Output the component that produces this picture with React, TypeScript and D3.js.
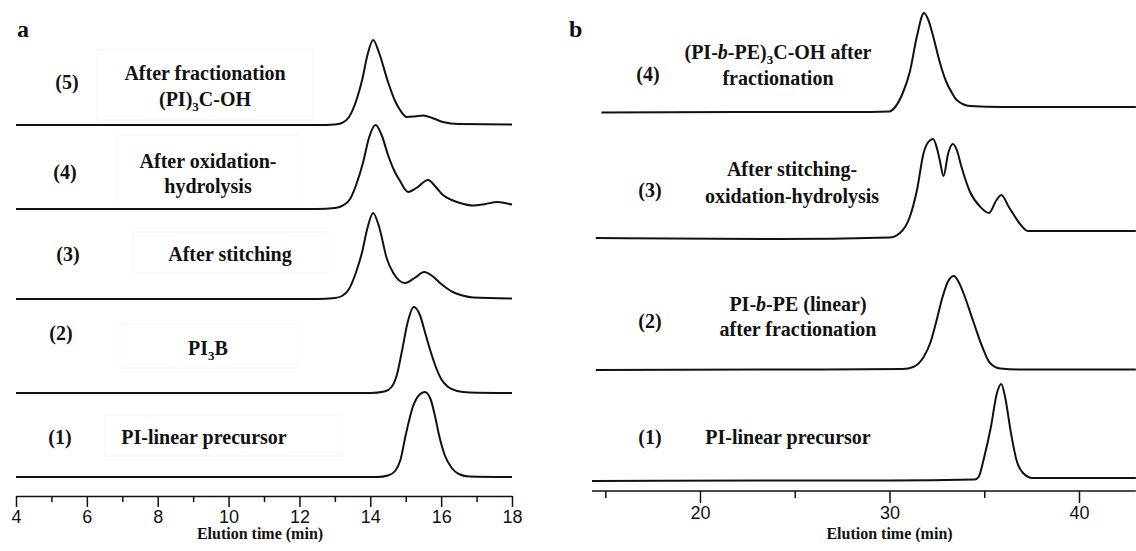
import * as d3 from 'd3';
import React, { useEffect, useRef } from 'react';

// ---- panel a : elution time (min), response (arbitrary units) ----
const traceA1 = [[4,0],[14.2,0],[14.5,1.5],[14.7,6],[14.85,17],[15.0,42],[15.2,70],[15.38,82],[15.54,85],[15.7,78],[15.82,62],[15.94,42],[16.1,22],[16.3,9],[16.5,3],[16.8,0.5],[18,0]];
const traceA2 = [[4,0],[14.0,0],[14.4,1.5],[14.6,6],[14.75,18],[14.9,43],[15.05,70],[15.23,86],[15.4,78],[15.55,60],[15.69,43],[15.85,26],[16.0,14],[16.2,6],[16.45,2],[16.8,0.5],[18,0]];
const traceA3 = [[4,0],[12.5,0],[13.0,1],[13.2,3],[13.4,10],[13.6,27],[13.77,47],[13.92,71],[14.08,86],[14.25,72],[14.47,40],[14.65,26],[14.98,16],[15.25,21],[15.52,27],[15.75,23],[15.97,16],[16.15,11],[16.33,7],[16.6,3.5],[16.9,1.5],[18,0.5]];
const traceA4 = [[4,0],[12.5,0],[13.0,1],[13.2,3],[13.43,10],[13.6,24],[13.8,47],[13.97,72],[14.15,84],[14.32,74],[14.5,54],[14.68,38],[14.84,28],[15.07,17],[15.3,21],[15.63,29],[15.85,22],[16.05,14],[16.3,9],[16.53,6],[16.9,3.5],[17.25,5],[17.58,7],[17.8,6],[18,4.5]];
const traceA5 = [[4,0],[12.5,0],[13.0,0.5],[13.2,2],[13.4,8],[13.6,24],[13.77,45],[13.92,70],[14.08,85],[14.25,72],[14.5,43],[14.7,24],[14.84,15],[15.03,8],[15.25,8.5],[15.5,9.5],[15.75,7],[16.05,3],[16.5,1],[18,0.5]];
const tracesA = [traceA1, traceA2, traceA3, traceA4, traceA5];
const offsetsA = [0, 84, 178, 268, 352];
const majorTicksA = [4, 6, 8, 10, 12, 14, 16, 18];
const minorTicksA = [5, 7, 9, 11, 13, 15, 17];

// ---- panel b ----
const traceB1 = [[14.3,0],[25,0.5],[30,0.5],[34.5,1.5],[34.7,4],[35.0,24],[35.35,54],[35.67,88],[35.9,97],[36.1,84],[36.4,49],[36.7,21],[37.05,8],[37.55,3],[40,3],[43,3]];
const traceB2 = [[14.5,0],[25,0.5],[30.7,1],[31.25,3],[31.8,13],[32.15,27],[32.45,47],[32.8,73],[33.1,89],[33.4,94],[33.65,88],[33.9,77],[34.45,47],[34.9,23],[35.3,7],[35.85,1.5],[37,0.5],[43,0.5]];
const traceB3 = [[14.5,0],[24,-1],[30.0,0.5],[30.55,5],[31.07,21],[31.45,48],[31.8,85],[32.05,96],[32.3,99],[32.5,90],[32.65,78],[32.85,62],[33.1,85],[33.35,94],[33.55,88],[33.8,71],[34.25,46],[34.8,31],[35.25,25],[35.65,38],[35.9,43],[36.3,31],[36.85,15],[37.3,7],[38,7],[43,7]];
const traceB4 = [[14.8,-0.5],[22,0],[28,0],[30.0,0.5],[30.3,5],[30.7,19],[31.07,40],[31.45,76],[31.82,99],[32.05,92],[32.3,76],[32.65,50],[33.0,30],[33.3,19],[33.55,12],[34.25,6],[36,5],[40,5],[43,5]];
const tracesB = [traceB1, traceB2, traceB3, traceB4];
const offsetsB = [0, 111, 243, 369];
const majorTicksB = [20, 30, 40];
const minorTicksB = [15, 25, 35];

// label lines: [text, kind] segments ('' normal, 'sub', 'i' italic)
const labelsA = [
  { num: '(1)', lines: [[['PI-linear precursor', '']]] },
  { num: '(2)', lines: [[['PI', ''], ['3', 'sub'], ['B', '']]] },
  { num: '(3)', lines: [[['After stitching', '']]] },
  { num: '(4)', lines: [[['After oxidation-', '']], [['hydrolysis', '']]] },
  { num: '(5)', lines: [[['After fractionation', '']], [['(PI)', ''], ['3', 'sub'], ['C-OH', '']]] },
];
const labelsB = [
  { num: '(1)', lines: [[['PI-linear precursor', '']]] },
  { num: '(2)', lines: [[['PI-', ''], ['b', 'i'], ['-PE (linear)', '']], [['after fractionation', '']]] },
  { num: '(3)', lines: [[['After stitching-', '']], [['oxidation-hydrolysis', '']]] },
  { num: '(4)', lines: [[['(PI-', ''], ['b', 'i'], ['-PE)', ''], ['3', 'sub'], ['C-OH after', '']], [['fractionation', '']]] },
];

const SERIF = '"Liberation Serif", "Times New Roman", Times, "DejaVu Serif", serif';
const SANS = '"Liberation Sans", Arial, Helvetica, sans-serif';

const App = () => {
  const svgRef = useRef(null);

  useEffect(() => {
    const svg = d3.select(svgRef.current);
    svg.selectAll('*').remove();

    const richText = (g, x, y, segs, size) => {
      const t = g.append('text')
        .attr('x', x).attr('y', y)
        .attr('text-anchor', 'middle')
        .style('font-family', SERIF)
        .style('font-weight', 'bold')
        .style('font-size', size + 'px')
        .attr('fill', '#111');
      let shifted = false;
      segs.forEach(([s, kind]) => {
        const ts = t.append('tspan').text(s);
        if (kind === 'sub') {
          ts.style('font-size', size * 0.65 + 'px').attr('dy', size * 0.25);
          shifted = true;
        } else {
          if (shifted) { ts.attr('dy', -size * 0.25); shifted = false; }
          if (kind === 'i') ts.style('font-style', 'italic');
        }
      });
    };

    const drawPanel = (cfg) => {
      const g = svg.append('g');
      const x = d3.scaleLinear().domain(cfg.xDomain).range(cfg.xRange);
      const y = d3.scaleLinear().domain([0, 100]).range([cfg.base, cfg.base - 100]);

      // faint label frames
      cfg.frames.forEach(f => {
        g.append('rect').attr('x', f[0]).attr('y', f[1]).attr('width', f[2]).attr('height', f[3])
          .attr('fill', 'none').attr('stroke', '#f5f5f5').attr('stroke-width', 1);
      });

      const line = d3.line().x(d => x(d[0])).y(d => y(d[1])).curve(d3.curveMonotoneX);
      cfg.traces.forEach((tr, i) => {
        const off = cfg.offsets[i];
        g.append('path')
          .attr('d', line(tr.map(p => [p[0], p[1] + off])))
          .attr('fill', 'none')
          .attr('stroke', '#111')
          .attr('stroke-width', 2)
          .attr('stroke-linejoin', 'round');
      });

      // x axis: major ticks with labels, minor ticks shorter
      const axisY = cfg.axisY;
      const major = d3.axisBottom(x).tickValues(cfg.major).tickSize(cfg.majorLen).tickSizeOuter(0).tickPadding(3);
      const axG = g.append('g').attr('transform', `translate(0,${axisY})`).call(major);
      axG.select('.domain').attr('stroke', '#111').attr('stroke-width', 1.5);
      if (cfg.axisExtent) {
        axG.select('.domain').attr('d', `M${x(cfg.axisExtent[0])},0H${x(cfg.axisExtent[1])}`);
      }
      axG.selectAll('.tick line').attr('stroke', '#111').attr('stroke-width', 1.5);
      axG.selectAll('.tick text').style('font-family', SANS).style('font-size', '18px').attr('fill', '#111');
      const minor = d3.axisBottom(x).tickValues(cfg.minor).tickSize(cfg.minorLen).tickFormat(() => '').tickSizeOuter(0);
      const mnG = g.append('g').attr('transform', `translate(0,${axisY})`).call(minor);
      mnG.select('.domain').remove();
      mnG.selectAll('.tick line').attr('stroke', '#111').attr('stroke-width', 1.5);

      g.append('text')
        .attr('x', (cfg.xRange[0] + cfg.xRange[1]) / 2 + cfg.titleDx)
        .attr('y', 539)
        .attr('text-anchor', 'middle')
        .style('font-family', SERIF).style('font-weight', 'bold').style('font-size', '16px')
        .attr('fill', '#111')
        .text('Elution time (min)');

      g.append('text').attr('x', cfg.letter[0]).attr('y', cfg.letter[1])
        .style('font-family', SERIF).style('font-weight', 'bold').style('font-size', '24px')
        .attr('fill', '#111').text(cfg.letter[2]);

      cfg.labels.forEach((lb, i) => {
        const pos = cfg.labelPos[i];
        richText(g, pos.nx, pos.ny, [[lb.num, '']], 20);
        lb.lines.forEach((ln, j) => richText(g, pos.tx, pos.ty[j], ln, 20));
      });
    };

    drawPanel({
      xDomain: [4, 18], xRange: [16, 512], base: 477, axisY: 496,
      traces: tracesA, offsets: offsetsA, major: majorTicksA, minor: minorTicksA,
      majorLen: 11, minorLen: 6, titleDx: -4, letter: [17, 37, 'a'],
      labels: labelsA,
      labelPos: [
        { nx: 60, ny: 444, tx: 204, ty: [444] },
        { nx: 61, ny: 340, tx: 208, ty: [355] },
        { nx: 68, ny: 261, tx: 230, ty: [261] },
        { nx: 65, ny: 179, tx: 208, ty: [168, 193] },
        { nx: 67, ny: 89, tx: 205, ty: [80, 106] },
      ],
      frames: [[105, 415, 237, 41], [120, 324, 178, 44], [133, 232, 195, 41], [117, 135, 181, 70], [97, 50, 216, 70]],
    });

    drawPanel({
      xDomain: [20, 40], xRange: [700, 1079], base: 481, axisY: 491,
      traces: tracesB, offsets: offsetsB, major: majorTicksB, minor: minorTicksB,
      majorLen: 12, minorLen: 7, titleDx: 0, letter: [569, 37, 'b'],
      axisExtent: [14.3, 43],
      labels: labelsB,
      labelPos: [
        { nx: 650, ny: 444, tx: 788, ty: [444] },
        { nx: 650, ny: 328, tx: 798, ty: [311, 336] },
        { nx: 650, ny: 197, tx: 792, ty: [176, 203] },
        { nx: 648, ny: 81, tx: 778, ty: [59, 85] },
      ],
      frames: [],
    });
  }, []);

  return (
    <svg ref={svgRef} width={1136} height={551}
      style={{ position: 'absolute', left: 0, top: 0, background: '#fff' }} />
  );
};

export default App;
